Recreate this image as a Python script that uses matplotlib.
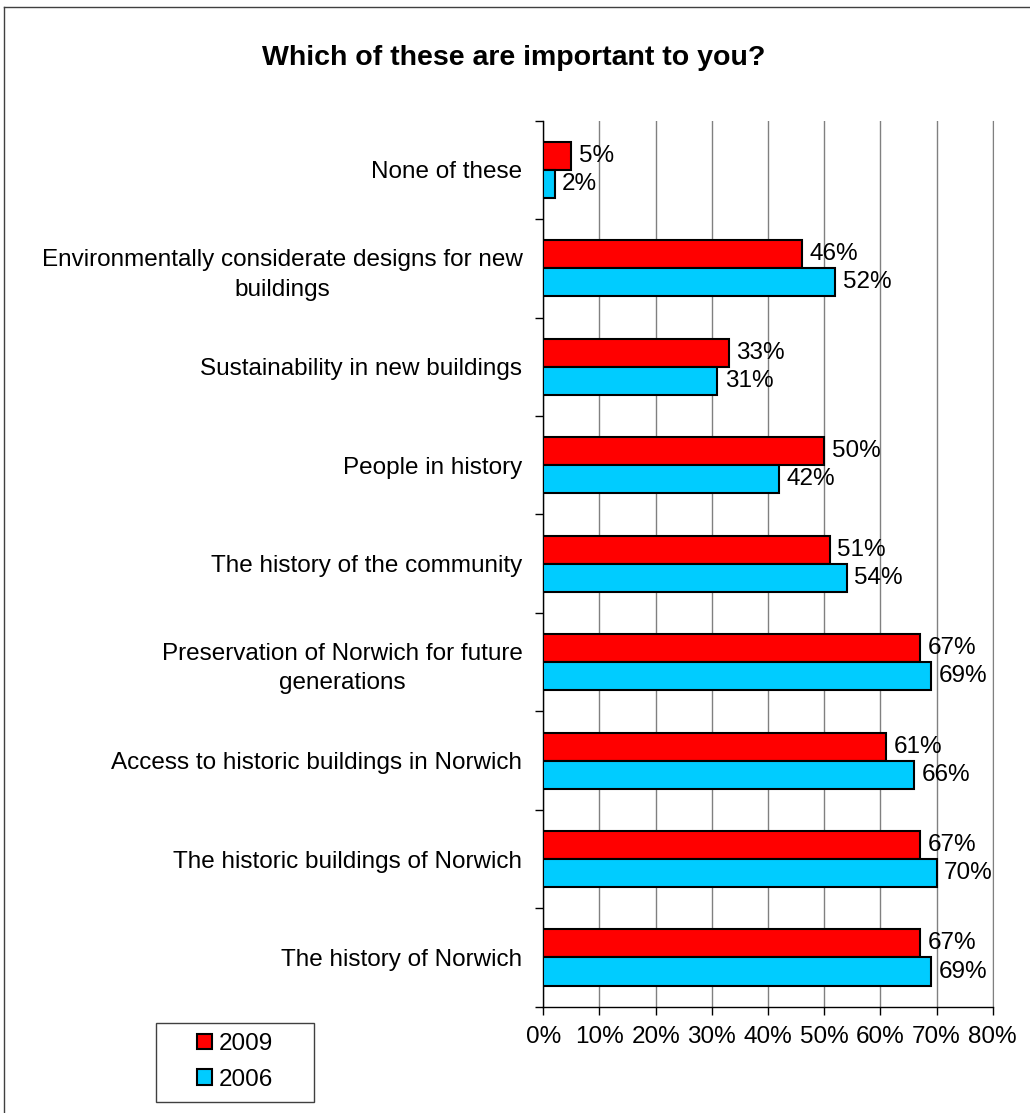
import numpy as np
import matplotlib.pyplot as plt
from matplotlib.patches import Patch, Rectangle
from matplotlib.lines import Line2D

plt.rcParams['font.family'] = ['Liberation Sans', 'DejaVu Sans']

# categories listed top to bottom as they appear in the chart
categories = [
    "None of these",
    "Environmentally considerate designs for new\nbuildings",
    "Sustainability in new buildings",
    "People in history",
    "The history of the community",
    "Preservation of Norwich for future\ngenerations",
    "Access to historic buildings in Norwich",
    "The historic buildings of Norwich",
    "The history of Norwich",
]
values_2009 = [5, 46, 33, 50, 51, 67, 61, 67, 67]
values_2006 = [2, 52, 31, 42, 54, 69, 66, 70, 69]
x_ticks = [0, 10, 20, 30, 40, 50, 60, 70, 80]

RED = "#ff0000"
BLUE = "#00ccff"
W, H = 1030, 1113
FS = 17.5


def main():
    fig = plt.figure(figsize=(W / 100, H / 100), dpi=100)
    ax = fig.add_axes((543.3 / W, 1 - 1006.7 / H, 449.4 / W, 886.0 / H))

    n = len(categories)
    y = np.arange(n)[::-1]
    bh = 0.285
    ax.barh(y + bh / 2, values_2009, height=bh, color=RED,
            edgecolor="black", linewidth=1.5, zorder=3)
    ax.barh(y - bh / 2, values_2006, height=bh, color=BLUE,
            edgecolor="black", linewidth=1.5, zorder=3)

    for yi, v in zip(y, values_2009):
        ax.annotate(f"{v}%", (v, yi + bh / 2), xytext=(5.5, 0),
                    textcoords="offset points", va="center", ha="left",
                    fontsize=FS)
    for yi, v in zip(y, values_2006):
        ax.annotate(f"{v}%", (v, yi - bh / 2), xytext=(5.5, 0),
                    textcoords="offset points", va="center", ha="left",
                    fontsize=FS)

    ax.set_xlim(0, 80)
    ax.set_ylim(-0.5, n - 0.5)

    ax.set_xticks(x_ticks)
    ax.set_xticklabels([f"{t}%" for t in x_ticks], fontsize=FS)
    ax.set_yticks(y)
    ax.set_yticklabels(categories, fontsize=FS)
    for lab in ax.get_yticklabels():
        lab.set_multialignment("center")
        lab.set_linespacing(1.45)
    ax.set_yticks(np.arange(n + 1) - 0.5, minor=True)

    ax.tick_params(axis="y", which="major", length=0, pad=15)
    ax.tick_params(axis="y", which="minor", length=6, width=1, direction="out")
    ax.tick_params(axis="x", length=6, width=1, direction="out", pad=8)

    ax.grid(axis="x", color="#808080", linewidth=1, zorder=0)
    ax.set_axisbelow(True)
    ax.spines["top"].set_visible(False)
    ax.spines["right"].set_color("#808080")
    for side in ("left", "bottom"):
        ax.spines[side].set_color("black")
        ax.spines[side].set_linewidth(1)

    fig.text(514 / W, 1 - 58 / H, "Which of these are important to you?",
             ha="center", va="center", fontsize=20.5, fontweight="bold")

    # outer chart-area frame
    fig.add_artist(Line2D([4 / W, 4 / W], [0, 1 - 7 / H], color="#404040",
                          linewidth=1, transform=fig.transFigure))
    fig.add_artist(Line2D([4 / W, 1], [1 - 7 / H, 1 - 7 / H], color="#404040",
                          linewidth=1, transform=fig.transFigure))

    # legend box
    fig.add_artist(Rectangle((156 / W, 1 - 1102 / H), 158 / W, 79 / H,
                             transform=fig.transFigure, facecolor="white",
                             edgecolor="#404040", linewidth=1))
    handles = [Patch(facecolor=RED, edgecolor="black", linewidth=1.5),
               Patch(facecolor=BLUE, edgecolor="black", linewidth=1.5)]
    fig.legend(handles, ["2009", "2006"], loc="center",
               bbox_to_anchor=(235 / W, 1 - 1062 / H), frameon=False,
               fontsize=FS, handlelength=0.6, handleheight=0.6,
               handletextpad=0.3, labelspacing=0.55)

    fig.savefig("out.png", dpi=100)


main()
